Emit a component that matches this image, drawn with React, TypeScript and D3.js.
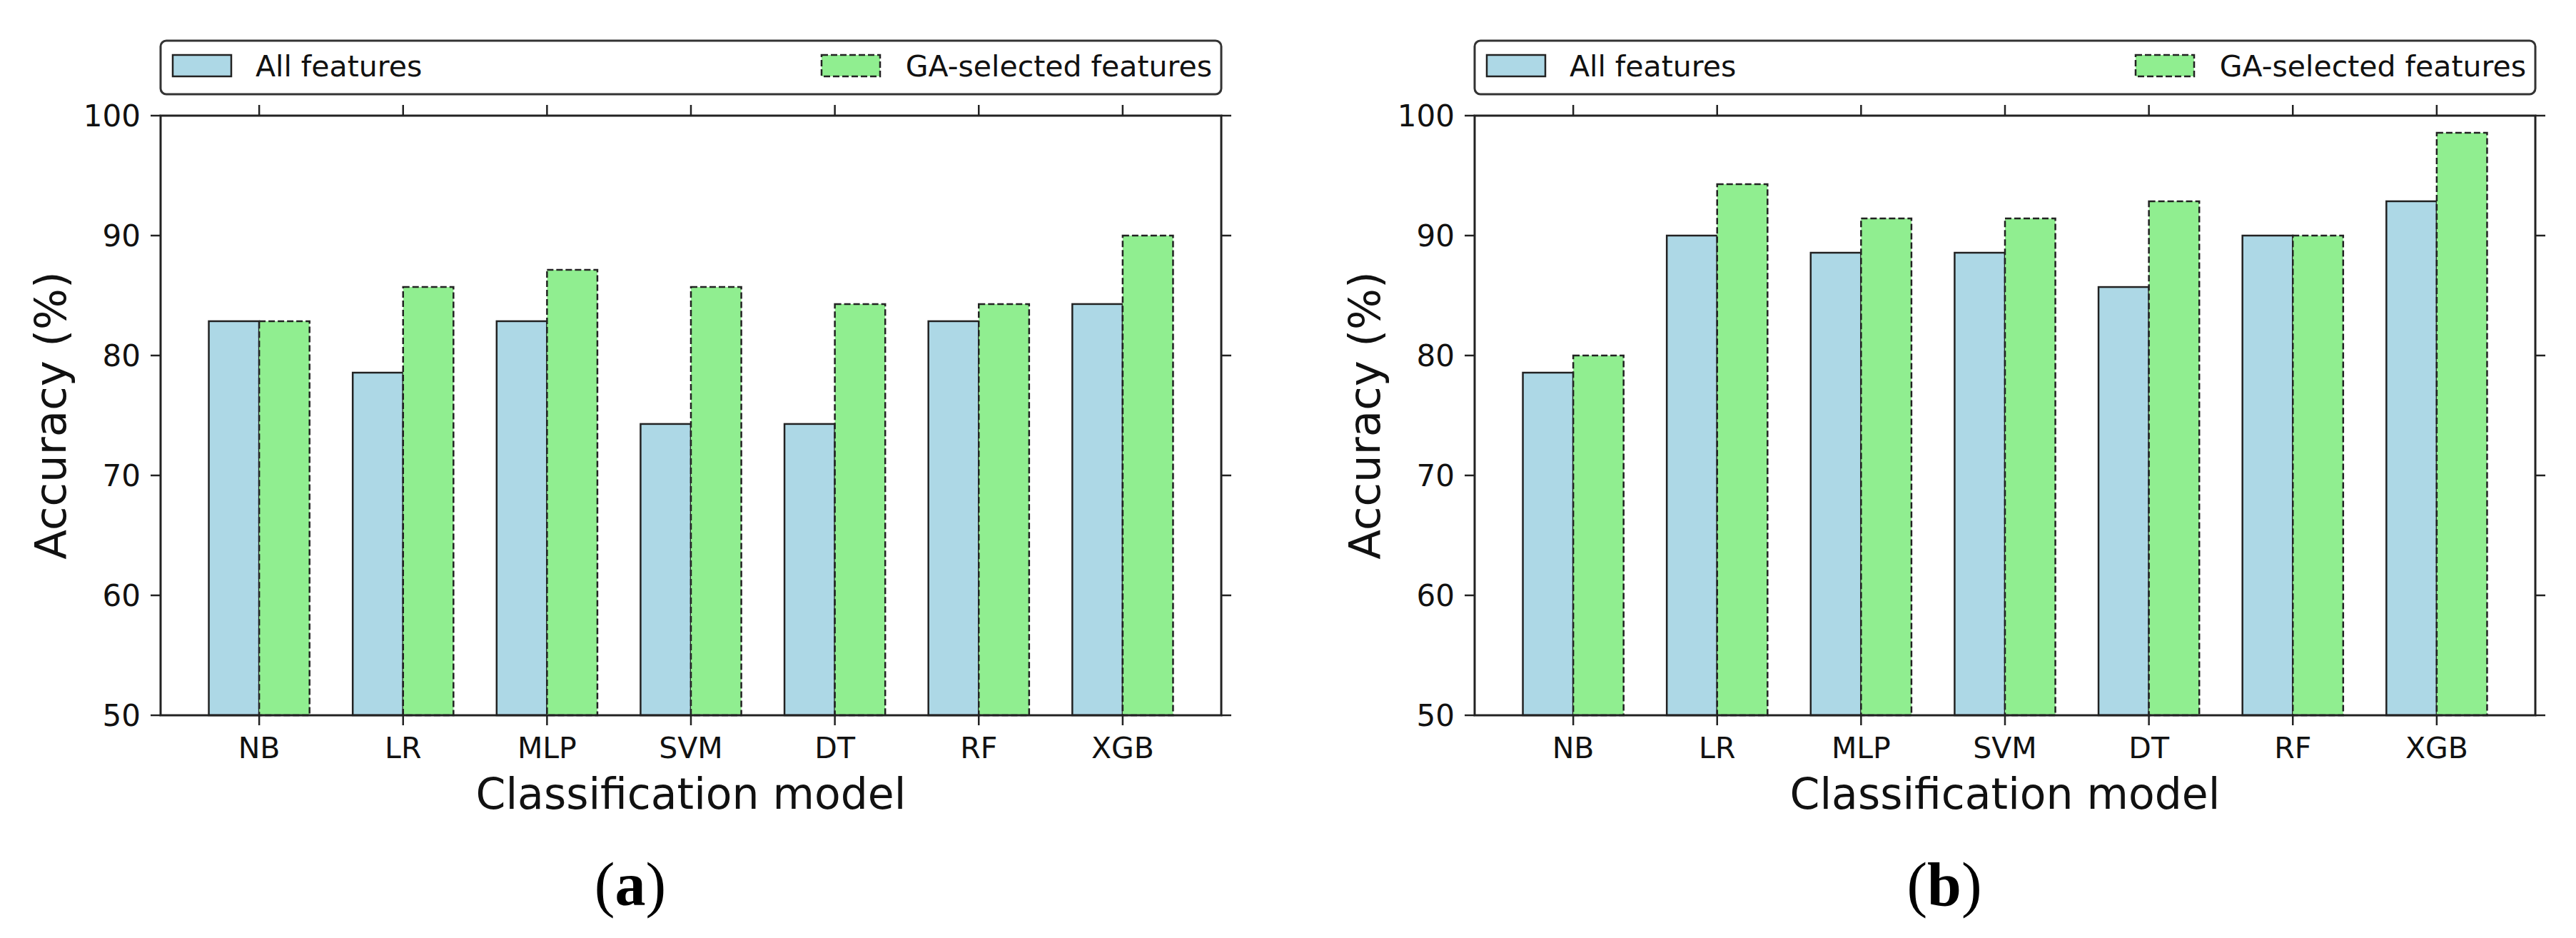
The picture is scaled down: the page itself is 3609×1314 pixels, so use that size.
import React from 'react';
import * as d3 from 'd3';

const models = ['NB', 'LR', 'MLP', 'SVM', 'DT', 'RF', 'XGB'];
// (a)
const allFeaturesA = [82.86, 78.57, 82.86, 74.29, 74.29, 82.86, 84.29];
const gaFeaturesA = [82.86, 85.71, 87.14, 85.71, 84.29, 84.29, 90.0];
// (b)
const allFeaturesB = [78.57, 90.0, 88.57, 88.57, 85.71, 90.0, 92.86];
const gaFeaturesB = [80.0, 94.29, 91.43, 91.43, 92.86, 90.0, 98.57];

const yTicks = [50, 60, 70, 80, 90, 100];
const legendLabels = ['All features', 'GA-selected features'];

const W = 3609;
const H = 1314;
const TOP = 162;
const BOTTOM = 1002;
const BAR_W = 0.35;

const colors = {
  all: '#add8e6',
  ga: '#90ee90',
  edge: '#222',
};

const sans = 'DejaVu Sans, Verdana, sans-serif';

interface PanelProps {
  left: number;
  right: number;
  all: number[];
  ga: number[];
  tag: string;
}

const Panel: React.FC<PanelProps> = ({ left, right, all, ga, tag }) => {
  const x = d3.scaleLinear().domain([-0.5 - BAR_W + 0.165, models.length - 0.5 + BAR_W - 0.165]).range([left, right]);
  // matplotlib-ish margins: data span [-0.35, 6.35] plus 5%
  const span = models.length - 1 + 2 * BAR_W;
  x.domain([-BAR_W - span * 0.05, models.length - 1 + BAR_W + span * 0.05]);
  const y = d3.scaleLinear().domain([50, 100]).range([BOTTOM, TOP]);
  const mid = (left + right) / 2;

  return (
    <g>
      {/* legend */}
      <rect x={left} y={57} width={right - left} height={75} rx={8} fill="white" stroke="#333" strokeWidth={3} />
      <rect x={left + 17} y={77} width={82} height={30} fill={colors.all} stroke={colors.edge} strokeWidth={2.5} />
      <text x={left + 133} y={107} fontFamily={sans} fontSize={41} fill="#111">{legendLabels[0]}</text>
      <rect x={right - 560} y={77} width={82} height={30} fill={colors.ga} stroke={colors.edge} strokeWidth={2.5} strokeDasharray="9 4" />
      <text x={right - 13} y={107} textAnchor="end" fontFamily={sans} fontSize={41} fill="#111">{legendLabels[1]}</text>

      {/* bars */}
      {all.map((v, i) => (
        <rect key={'a' + i} x={x(i - BAR_W)} y={y(v)} width={x(i) - x(i - BAR_W)} height={y(50) - y(v)}
          fill={colors.all} stroke={colors.edge} strokeWidth={2.5} />
      ))}
      {ga.map((v, i) => (
        <rect key={'g' + i} x={x(i)} y={y(v)} width={x(i + BAR_W) - x(i)} height={y(50) - y(v)}
          fill={colors.ga} stroke={colors.edge} strokeWidth={2.5} strokeDasharray="9 4" />
      ))}

      {/* frame */}
      <rect x={left} y={TOP} width={right - left} height={BOTTOM - TOP} fill="none" stroke={colors.edge} strokeWidth={3} />

      {/* y ticks left + right */}
      {yTicks.map((t) => (
        <g key={'y' + t}>
          <line x1={left - 14} x2={left} y1={y(t)} y2={y(t)} stroke={colors.edge} strokeWidth={2.5} />
          <line x1={right} x2={right + 14} y1={y(t)} y2={y(t)} stroke={colors.edge} strokeWidth={2.5} />
          <text x={left - 28} y={y(t) + 15} textAnchor="end" fontFamily={sans} fontSize={42} fill="#111">{t}</text>
        </g>
      ))}

      {/* x ticks bottom + top */}
      {models.map((m, i) => (
        <g key={'x' + m}>
          <line x1={x(i)} x2={x(i)} y1={BOTTOM} y2={BOTTOM + 14} stroke={colors.edge} strokeWidth={2.5} />
          <line x1={x(i)} x2={x(i)} y1={TOP - 15} y2={TOP} stroke={colors.edge} strokeWidth={2.5} />
          <text x={x(i)} y={1062} textAnchor="middle" fontFamily={sans} fontSize={41} fill="#111">{m}</text>
        </g>
      ))}

      {/* axis titles */}
      <text x={mid} y={1133} textAnchor="middle" fontFamily={sans} fontSize={60} fill="#111">Classification model</text>
      <text transform={`translate(${left - 133},${(TOP + BOTTOM) / 2}) rotate(-90)`} textAnchor="middle"
        fontFamily={sans} fontSize={61} fill="#111">Accuracy (%)</text>

      {/* panel tag */}
      <text x={left + 658} y={1268} textAnchor="middle" fontFamily="Liberation Serif, Times New Roman, serif" fontSize={86} fill="#000">
        (<tspan fontWeight="bold">{tag}</tspan>)
      </text>
    </g>
  );
};

export default function App() {
  return (
    <svg width={W} height={H} style={{ position: 'absolute', left: 0, top: 0, background: 'white' }}>
      <rect width={W} height={H} fill="white" />
      <Panel left={225} right={1711} all={allFeaturesA} ga={gaFeaturesA} tag="a" />
      <Panel left={2066} right={3552} all={allFeaturesB} ga={gaFeaturesB} tag="b" />
    </svg>
  );
}
